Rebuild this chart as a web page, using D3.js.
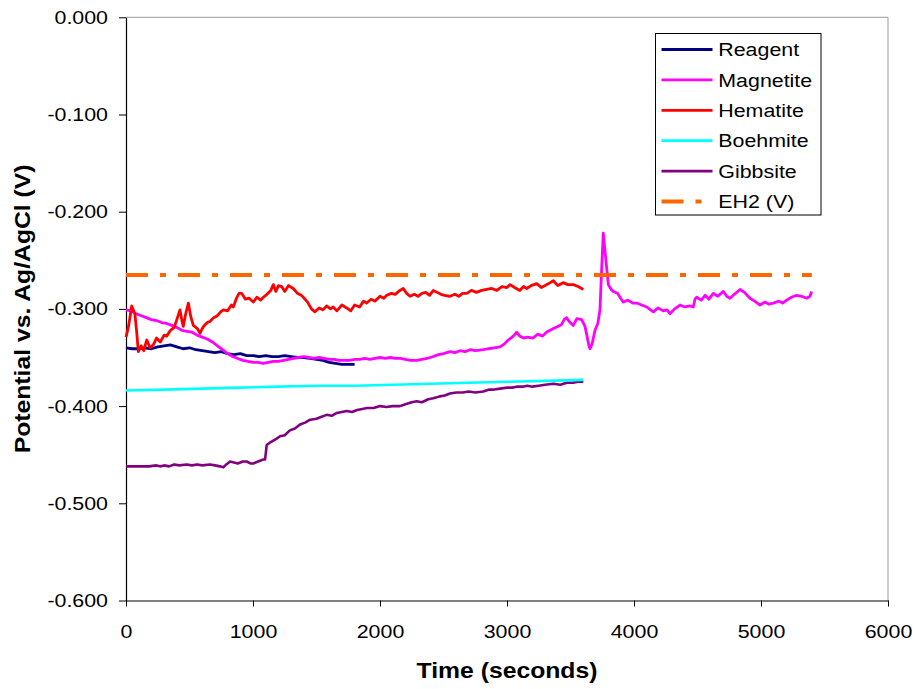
<!DOCTYPE html>
<html lang="en">
<head>
  <meta charset="utf-8">
  <title>Potential vs. time</title>
  <style>
    body { margin: 0; padding: 0; background: #fff; }
    svg { display: block; font-family: "Liberation Sans", Arial, sans-serif; }
  </style>
</head>
<body>
  <div id="chart"></div>
  <script src="https://cdn.jsdelivr.net/npm/d3@7"></script>
  <script>
    // ---- data: [time (s), potential (V)] ----
    var reagent = [[0,-0.340],[50,-0.341],[100,-0.341],[150,-0.340],[200,-0.341],[250,-0.339],[300,-0.338],[350,-0.337],[400,-0.339],[450,-0.341],[500,-0.340],[550,-0.342],[600,-0.343],[650,-0.344],[700,-0.345],[750,-0.344],[800,-0.346],[850,-0.347],[900,-0.346],[950,-0.348],[1000,-0.348],[1050,-0.349],[1100,-0.348],[1150,-0.349],[1200,-0.349],[1250,-0.348],[1300,-0.349],[1350,-0.350],[1400,-0.350],[1450,-0.351],[1500,-0.352],[1550,-0.353],[1600,-0.355],[1650,-0.356],[1700,-0.357],[1750,-0.357],[1800,-0.357]];

    var magnetite = [[0,-0.301],[40,-0.302],[80,-0.305],[120,-0.307],[160,-0.309],[200,-0.311],[240,-0.312],[280,-0.314],[320,-0.315],[360,-0.317],[400,-0.319],[440,-0.322],[480,-0.323],[520,-0.324],[560,-0.327],[600,-0.329],[640,-0.331],[680,-0.334],[720,-0.338],[760,-0.342],[800,-0.346],[840,-0.349],[880,-0.351],[920,-0.353],[960,-0.354],[1000,-0.355],[1040,-0.355],[1080,-0.356],[1120,-0.355],[1160,-0.354],[1200,-0.354],[1240,-0.353],[1280,-0.352],[1320,-0.351],[1360,-0.350],[1400,-0.349],[1440,-0.350],[1480,-0.351],[1520,-0.350],[1560,-0.351],[1600,-0.352],[1640,-0.352],[1680,-0.353],[1720,-0.353],[1760,-0.353],[1800,-0.352],[1840,-0.352],[1880,-0.351],[1920,-0.352],[1960,-0.351],[2000,-0.350],[2040,-0.351],[2080,-0.350],[2120,-0.351],[2160,-0.351],[2200,-0.352],[2240,-0.353],[2289,-0.353],[2330,-0.352],[2370,-0.351],[2420,-0.349],[2460,-0.347],[2500,-0.346],[2551,-0.344],[2590,-0.345],[2630,-0.343],[2670,-0.344],[2710,-0.342],[2750,-0.343],[2813,-0.342],[2850,-0.341],[2900,-0.340],[2945,-0.339],[2980,-0.336],[3010,-0.332],[3030,-0.330],[3050,-0.328],[3076,-0.324],[3100,-0.328],[3130,-0.330],[3160,-0.329],[3206,-0.330],[3240,-0.326],[3280,-0.328],[3310,-0.324],[3339,-0.322],[3370,-0.320],[3400,-0.318],[3430,-0.316],[3450,-0.311],[3470,-0.309],[3490,-0.313],[3522,-0.317],[3550,-0.310],[3588,-0.311],[3614,-0.318],[3630,-0.328],[3645,-0.338],[3654,-0.341],[3670,-0.336],[3693,-0.322],[3715,-0.315],[3732,-0.301],[3745,-0.260],[3758,-0.222],[3775,-0.245],[3798,-0.275],[3820,-0.280],[3837,-0.282],[3870,-0.284],[3900,-0.290],[3916,-0.293],[3950,-0.291],[3990,-0.294],[4021,-0.294],[4060,-0.296],[4100,-0.298],[4130,-0.301],[4152,-0.303],[4190,-0.299],[4230,-0.302],[4260,-0.301],[4283,-0.305],[4320,-0.300],[4362,-0.296],[4400,-0.298],[4440,-0.297],[4467,-0.298],[4480,-0.290],[4493,-0.288],[4530,-0.291],[4560,-0.286],[4590,-0.290],[4624,-0.284],[4660,-0.287],[4703,-0.282],[4730,-0.287],[4756,-0.289],[4790,-0.285],[4835,-0.280],[4870,-0.283],[4913,-0.289],[4950,-0.292],[4992,-0.296],[5030,-0.293],[5060,-0.295],[5097,-0.294],[5140,-0.292],[5170,-0.294],[5202,-0.291],[5240,-0.288],[5281,-0.286],[5320,-0.287],[5360,-0.289],[5385,-0.287],[5399,-0.282]];

    var hematite = [[0,-0.329],[20,-0.318],[45,-0.297],[70,-0.305],[85,-0.325],[97,-0.344],[120,-0.338],[140,-0.343],[163,-0.332],[190,-0.340],[215,-0.337],[240,-0.330],[270,-0.334],[300,-0.327],[320,-0.328],[350,-0.322],[380,-0.319],[400,-0.311],[425,-0.301],[440,-0.312],[451,-0.318],[470,-0.305],[491,-0.294],[510,-0.308],[530,-0.317],[560,-0.320],[583,-0.325],[610,-0.318],[640,-0.314],[661,-0.313],[690,-0.309],[720,-0.307],[745,-0.303],[766,-0.301],[800,-0.302],[830,-0.296],[845,-0.298],[870,-0.289],[890,-0.284],[911,-0.284],[940,-0.290],[970,-0.289],[1002,-0.293],[1030,-0.288],[1060,-0.291],[1081,-0.288],[1110,-0.285],[1140,-0.281],[1160,-0.275],[1180,-0.282],[1200,-0.276],[1226,-0.277],[1250,-0.282],[1280,-0.276],[1317,-0.279],[1350,-0.284],[1380,-0.286],[1396,-0.288],[1430,-0.293],[1460,-0.300],[1488,-0.303],[1520,-0.299],[1550,-0.301],[1580,-0.297],[1610,-0.300],[1632,-0.298],[1660,-0.302],[1700,-0.296],[1738,-0.299],[1770,-0.302],[1800,-0.296],[1840,-0.298],[1870,-0.292],[1895,-0.294],[1930,-0.290],[1960,-0.292],[2000,-0.287],[2030,-0.289],[2053,-0.286],[2090,-0.284],[2120,-0.285],[2157,-0.281],[2183,-0.279],[2210,-0.284],[2236,-0.287],[2270,-0.285],[2300,-0.287],[2330,-0.284],[2360,-0.283],[2390,-0.286],[2420,-0.281],[2450,-0.283],[2480,-0.285],[2510,-0.286],[2551,-0.287],[2590,-0.285],[2620,-0.287],[2650,-0.284],[2683,-0.284],[2720,-0.281],[2760,-0.283],[2800,-0.281],[2840,-0.280],[2880,-0.279],[2920,-0.281],[2960,-0.277],[3000,-0.278],[3024,-0.275],[3060,-0.278],[3100,-0.281],[3130,-0.277],[3155,-0.279],[3190,-0.276],[3234,-0.274],[3270,-0.278],[3300,-0.276],[3340,-0.273],[3365,-0.271],[3400,-0.276],[3443,-0.273],[3480,-0.275],[3522,-0.275],[3560,-0.277],[3601,-0.280]];

    var boehmite = [[0,-0.384],[300,-0.383],[600,-0.382],[900,-0.381],[1200,-0.380],[1500,-0.379],[1800,-0.379],[2100,-0.378],[2400,-0.377],[2700,-0.376],[3000,-0.375],[3300,-0.374],[3600,-0.373]];

    var gibbsite = [[0,-0.462],[60,-0.462],[120,-0.462],[180,-0.462],[240,-0.461],[268,-0.462],[300,-0.461],[340,-0.462],[380,-0.460],[420,-0.461],[478,-0.460],[520,-0.461],[560,-0.460],[600,-0.461],[661,-0.460],[700,-0.461],[740,-0.462],[766,-0.463],[790,-0.460],[819,-0.457],[850,-0.458],[880,-0.459],[920,-0.457],[950,-0.457],[980,-0.459],[1002,-0.459],[1040,-0.457],[1081,-0.455],[1095,-0.455],[1108,-0.440],[1140,-0.437],[1180,-0.434],[1213,-0.431],[1250,-0.430],[1290,-0.425],[1330,-0.423],[1370,-0.419],[1410,-0.417],[1450,-0.414],[1500,-0.413],[1540,-0.411],[1580,-0.409],[1620,-0.410],[1660,-0.407],[1700,-0.406],[1738,-0.405],[1780,-0.406],[1820,-0.404],[1860,-0.403],[1900,-0.402],[1950,-0.402],[2000,-0.400],[2050,-0.401],[2100,-0.400],[2157,-0.400],[2200,-0.398],[2250,-0.396],[2289,-0.395],[2330,-0.396],[2380,-0.393],[2420,-0.392],[2470,-0.390],[2510,-0.389],[2551,-0.387],[2600,-0.386],[2650,-0.386],[2700,-0.385],[2750,-0.386],[2813,-0.385],[2860,-0.383],[2900,-0.383],[2945,-0.382],[3000,-0.381],[3040,-0.381],[3076,-0.380],[3120,-0.380],[3160,-0.379],[3200,-0.380],[3250,-0.379],[3300,-0.378],[3365,-0.377],[3420,-0.378],[3470,-0.376],[3520,-0.376],[3560,-0.375],[3601,-0.375]];

    var eh2 = [[0,-0.265],[5400,-0.265]];

    var seriesNames = ["Reagent", "Magnetite", "Hematite", "Boehmite", "Gibbsite", "EH2 (V)"];
    var seriesColors = ["#000080", "#FF00FF", "#FF0000", "#00FFFF", "#800080", "#FF6600"];
    var xTicks = [0, 1000, 2000, 3000, 4000, 5000, 6000];
    var yTicks = [0, -0.1, -0.2, -0.3, -0.4, -0.5, -0.6];

    var allSeries = [reagent, magnetite, hematite, boehmite, gibbsite, eh2];

    // ---- layout ----
    var W = 915, H = 689;
    var margin = { top: 17.3, right: 27, bottom: 88.5, left: 126 };
    var width = W - margin.left - margin.right,
        height = H - margin.top - margin.bottom;
    var fs = 18.6;      // label font size
    var sx = 1.15;      // the original text is a bit wide, stretch it

    // stretch a text horizontally around its own anchor point
    function stretch(sel) {
      sel.each(function () {
        var t = d3.select(this);
        var tx = +t.attr("x") || 0, ty = +t.attr("y") || 0;
        t.attr("transform", "translate(" + tx + "," + ty + ") scale(" + sx + ",1) translate(" + (-tx) + "," + (-ty) + ")");
      });
    }

    var svg = d3.select("#chart")
      .append("svg")
      .attr("width", W)
      .attr("height", H);

    svg.append("rect").attr("width", W).attr("height", H).attr("fill", "#fff");

    var g = svg.append("g")
      .attr("transform", "translate(" + margin.left + "," + margin.top + ")");

    var x = d3.scaleLinear().domain([0, 6000]).range([0, width]);
    var y = d3.scaleLinear().domain([-0.6, 0]).range([height, 0]);

    // plot area border (top and right, grey)
    g.append("path")
      .attr("d", "M0,0H" + width + "V" + height)
      .attr("fill", "none")
      .attr("stroke", "#9a9a9a")
      .attr("stroke-width", 1);

    // x axis
    var xAxis = g.append("g")
      .attr("transform", "translate(0," + height + ")")
      .call(d3.axisBottom(x).tickValues(xTicks).tickSize(6).tickSizeOuter(0).tickPadding(18)
        .tickFormat(d3.format("d")));
    // y axis
    var yAxis = g.append("g")
      .call(d3.axisLeft(y).tickValues(yTicks).tickSize(7).tickSizeOuter(0).tickPadding(11)
        .tickFormat(function (d) { return d3.format(".3f")(d).replace("\u2212", "-"); }));

    [xAxis, yAxis].forEach(function (a) {
      a.select(".domain").attr("stroke", "#000").attr("stroke-width", 1.2);
      a.selectAll(".tick line").attr("stroke", "#000");
      a.selectAll(".tick text")
        .attr("fill", "#000")
        .style("font-size", fs + "px")
        .style("font-family", "'Liberation Sans', Arial, sans-serif")
        .call(stretch);
    });

    // lines
    var line = d3.line()
      .x(function (d) { return x(d[0]); })
      .y(function (d) { return y(d[1]); });

    var drawOrder = [4, 3, 0, 1, 2, 5];
    drawOrder.forEach(function (i) {
      g.append("path")
        .datum(allSeries[i])
        .attr("fill", "none")
        .attr("stroke", seriesColors[i])
        .attr("stroke-width", i === 5 ? 4 : (i === 3 || i === 4 ? 2.6 : 2.8))
        .attr("stroke-linejoin", "round")
        .attr("stroke-dasharray", i === 5 ? "22,12,6,12" : null)
        .attr("d", line);
    });

    // axis titles
    svg.append("text")
      .attr("x", margin.left + width / 2)
      .attr("y", 678)
      .attr("text-anchor", "middle")
      .style("font-size", "21.5px")
      .style("font-weight", "bold")
      .text("Time (seconds)")
      .call(stretch);

    svg.append("text")
      .attr("transform", "translate(29.5," + (margin.top + height / 2) + ") rotate(-90) scale(" + sx + ",1)")
      .attr("text-anchor", "middle")
      .style("font-size", "21.5px")
      .style("font-weight", "bold")
      .text("Potential vs. Ag/AgCl (V)");

    // legend
    var legend = svg.append("g").attr("transform", "translate(655.5,33.5)");
    legend.append("rect")
      .attr("width", 165.5)
      .attr("height", 181.5)
      .attr("fill", "#fff")
      .attr("stroke", "#000")
      .attr("stroke-width", 1);

    seriesNames.forEach(function (name, i) {
      var cy = 16 + i * 30.4;
      legend.append("line")
        .attr("x1", 6).attr("x2", 57)
        .attr("y1", cy).attr("y2", cy)
        .attr("stroke", seriesColors[i])
        .attr("stroke-width", i === 5 ? 4 : 2.8)
        .attr("stroke-dasharray", i === 5 ? "22,12,6,12" : null);
      legend.append("text")
        .attr("x", 62.8)
        .attr("y", cy + 6.7)
        .style("font-size", fs + "px")
        .text(name)
        .call(stretch);
    });
  </script>
</body>
</html>
